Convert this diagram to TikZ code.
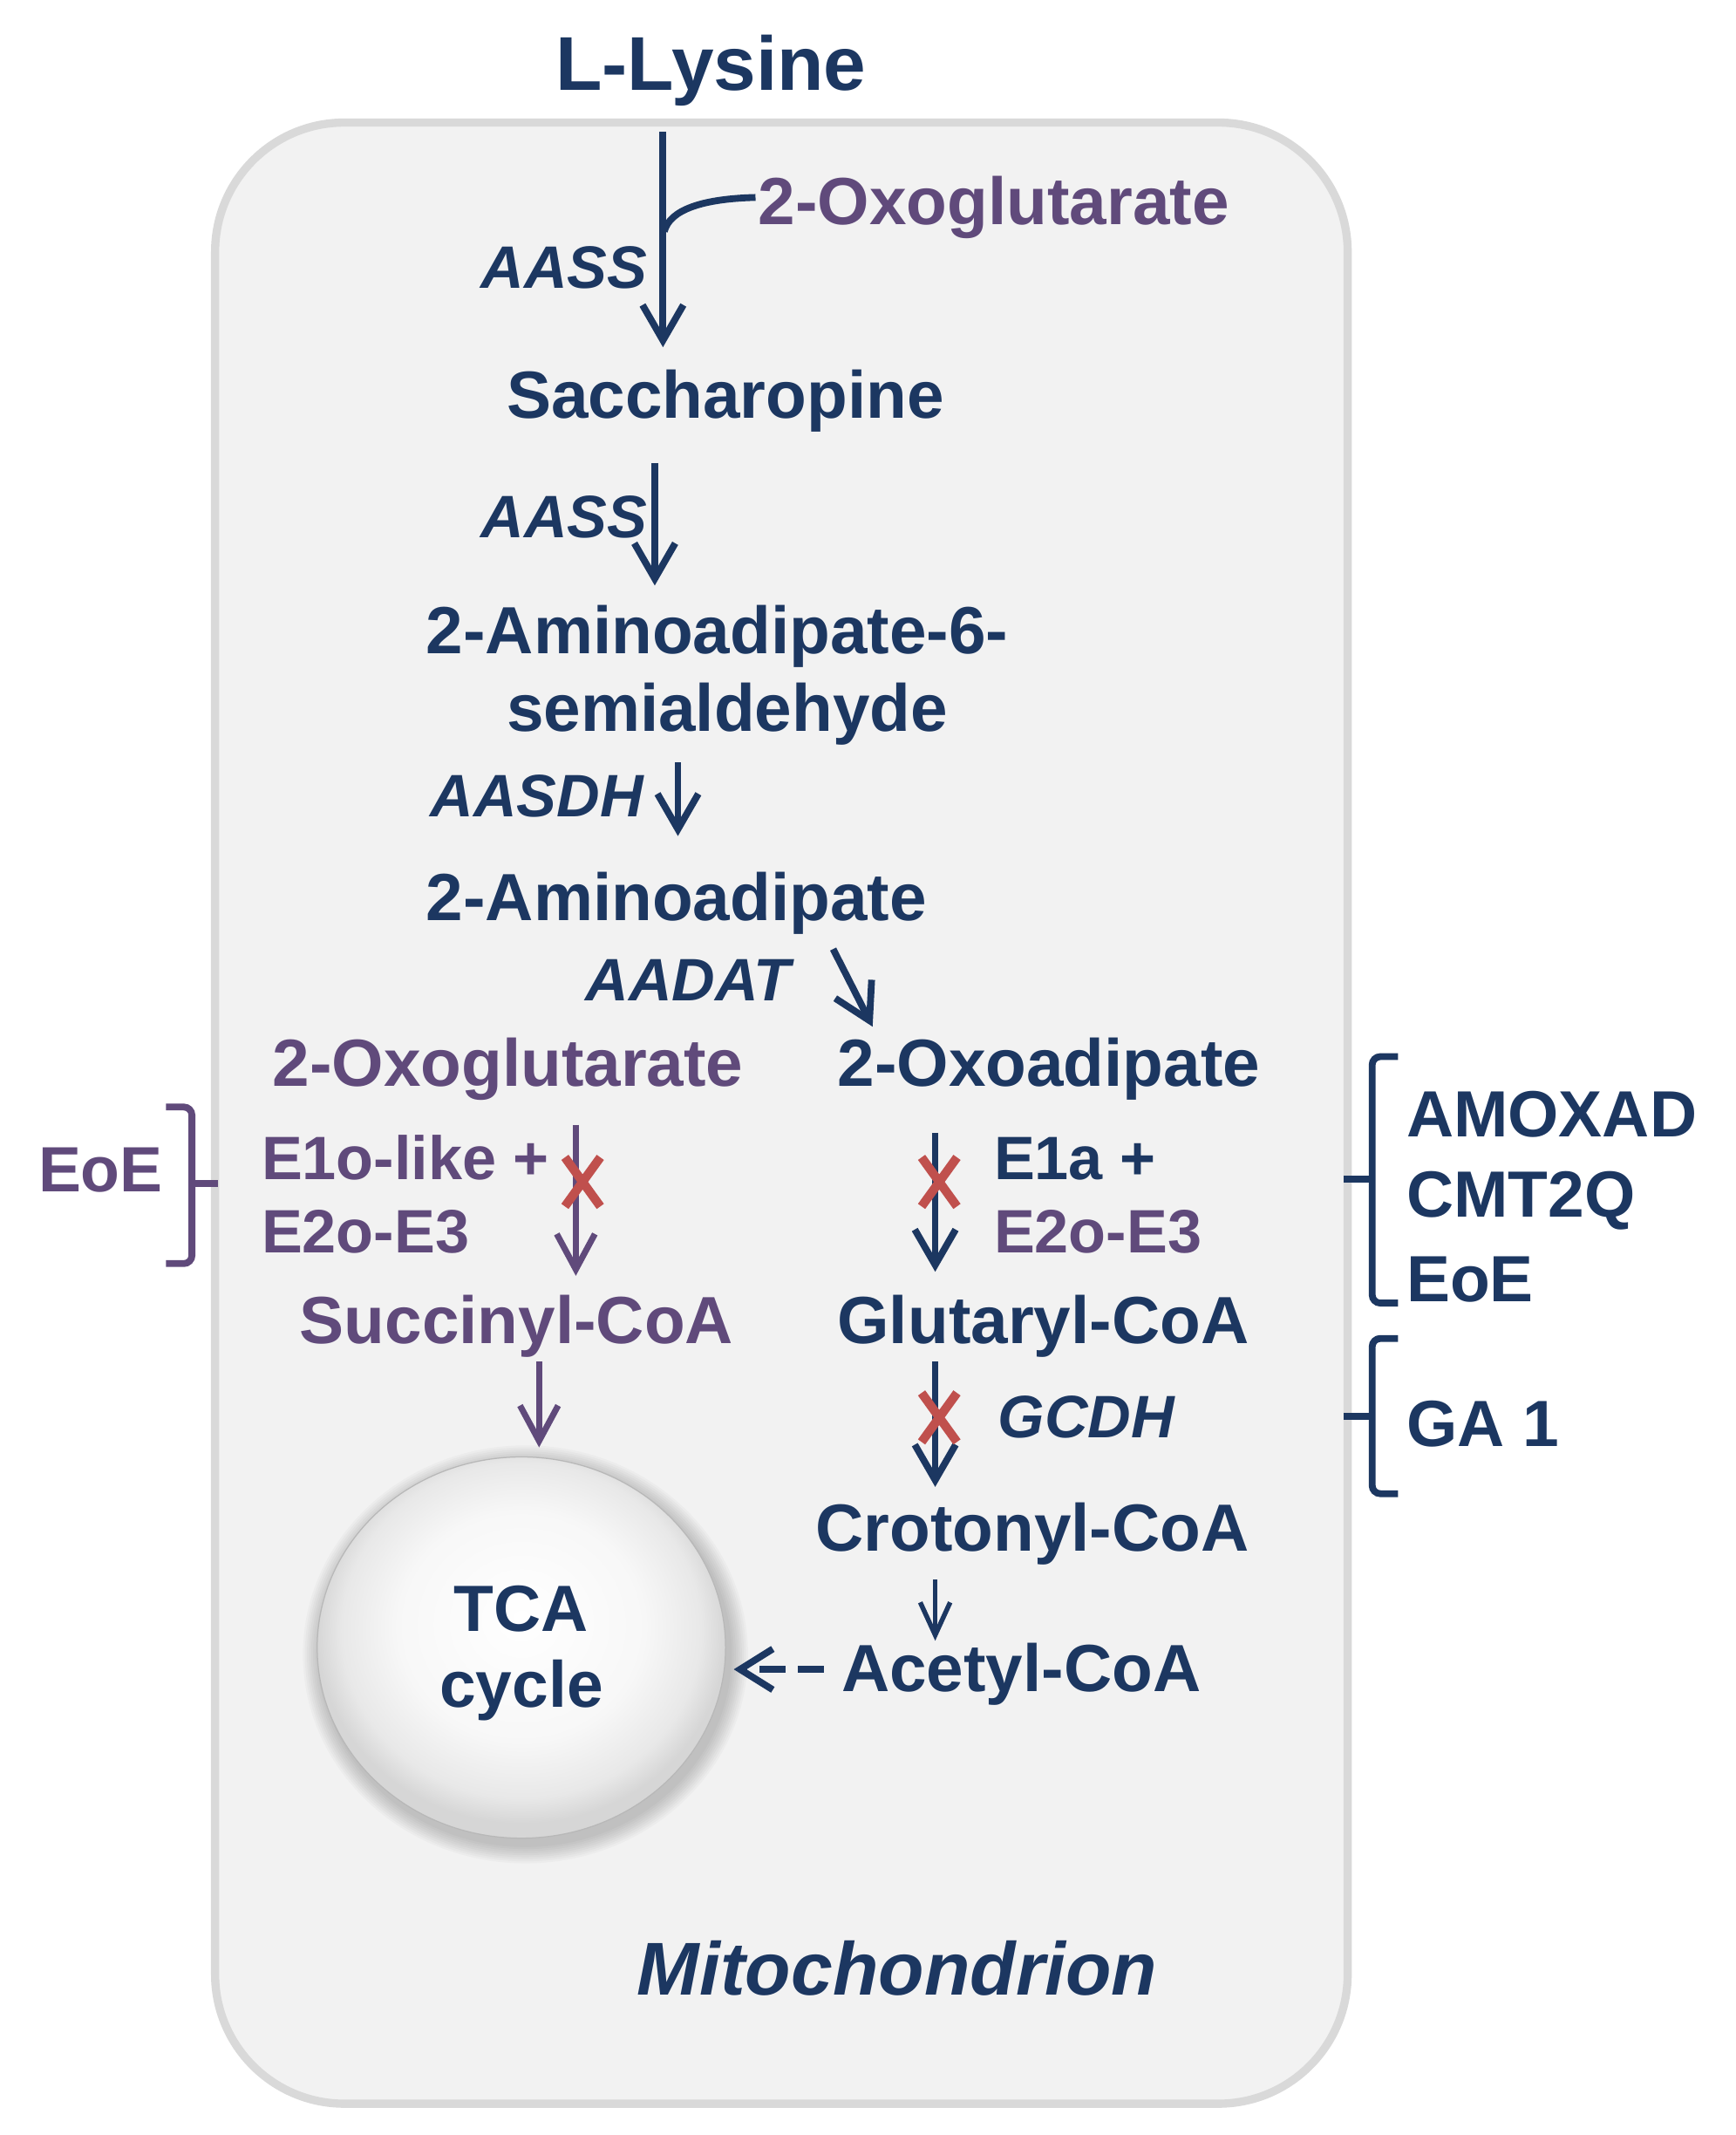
\documentclass[tikz,border=0pt]{standalone}
\usepackage{fontspec}
\setmainfont{Liberation Sans}
\usetikzlibrary{arrows.meta}
\definecolor{navy}{HTML}{1C3761}
\definecolor{purp}{HTML}{604A7B}
\definecolor{redx}{HTML}{C0504D}
\definecolor{boxfill}{HTML}{F2F2F2}
\definecolor{boxline}{HTML}{D9D9D9}
\pgfdeclareradialshading{sphere}{\pgfpoint{0bp}{4bp}}{%
  color(0bp)=(white);
  color(15bp)=(white!97!black);
  color(22bp)=(white!91!black);
  color(25bp)=(white!84!black);
  color(50bp)=(white!84!black)}
\begin{document}
\begin{tikzpicture}[x=1pt,y=-1pt,
  lab/.style={inner sep=0pt,anchor=base west,text=navy,font=\bfseries\fontsize{49}{58}\selectfont},
  plab/.style={lab,text=purp},
  enz/.style={inner sep=0pt,anchor=base west,text=navy,font=\bfseries\itshape\fontsize{44}{52}\selectfont},
  elab/.style={inner sep=0pt,anchor=base west,text=purp,font=\bfseries\fontsize{45}{54}\selectfont},
  dlab/.style={inner sep=0pt,anchor=base west,text=navy,font=\bfseries\fontsize{48}{57}\selectfont,align=left},
  arr/.style={navy,line width=5pt,-{Straight Barb[length=26pt,width=30pt]}},
  parr/.style={purp,line width=4.5pt,-{Straight Barb[length=26pt,width=28pt]}},
  sarr/.style={navy,line width=3.5pt,-{Straight Barb[length=24pt,width=22pt]}},
  xmark/.style={redx,line width=6.5pt},
  brk/.style={line width=5pt,rounded corners=6pt}]
\useasboundingbox (0,0) rectangle (1275,1568);

% mitochondrion box
\draw[fill=boxfill,draw=boxline,line width=6pt,rounded corners=95pt] (158,90) rectangle (990,1545);

% TCA sphere with soft shadow
\foreach \i in {1,...,9}{
  \fill[black,opacity=0.022] (386,1215) ellipse ({150+1.5*\i} and {140+1.5*\i});
}
\shade[shading=sphere] (383,1210) ellipse (150 and 140);
\draw[white!72!black,line width=0.8pt] (383,1210) ellipse (150 and 140);
\node[inner sep=0pt,text=navy,align=center,font=\bfseries\fontsize{48}{56}\selectfont,anchor=base] (tca) at (383,1254) {TCA\\cycle};

% texts
\node[lab,font=\bfseries\fontsize{56}{66}\selectfont] (lys) at (408,66) {L-Lysine};
\node[plab] (oxoA) at (557,165) {2-Oxoglutarate};
\node[enz] (aass1) at (353,212) {AASS};
\node[lab] (sacc) at (372,307) {Saccharopine};
\node[enz] (aass2) at (353,395) {AASS};
\node[lab] (aa6) at (313,480) {2-Aminoadipate-6-};
\node[lab] (semi) at (372,537) {semialdehyde};
\node[enz] (aasdh) at (316,600) {AASDH};
\node[lab] (aa) at (313,676) {2-Aminoadipate};
\node[enz] (aadat) at (430,735) {AADAT};
\node[plab] (oxoB) at (200,798) {2-Oxoglutarate};
\node[lab] (oxoad) at (615,798) {2-Oxoadipate};
\node[elab] (e1o) at (192,866) {E1o-like +};
\node[elab] (e2oL) at (192,920) {E2o-E3};
\node[elab,font=\bfseries\fontsize{47}{56}\selectfont] (eoeL) at (28,875) {EoE};
\node[elab,text=navy] (e1a) at (730,866) {E1a +};
\node[elab] (e2oR) at (730,920) {E2o-E3};
\node[plab] (succ) at (220,987) {Succinyl-CoA};
\node[lab] (glut) at (615,987) {Glutaryl-CoA};
\node[enz] (gcdh) at (733,1056) {GCDH};
\node[lab] (crot) at (599,1139) {Crotonyl-CoA};
\node[lab] (acet) at (618,1242) {Acetyl-CoA};
\node[inner sep=0pt,anchor=base west,text=navy,font=\bfseries\itshape\fontsize{55}{64}\selectfont] (mito) at (468,1465) {Mitochondrion};
\node[dlab] (amox) at (1033,835) {AMOXAD};
\node[dlab] (cmt) at (1033,894) {CMT2Q};
\node[dlab] (eoeR) at (1033,956) {EoE};
\node[dlab] (ga) at (1033,1062) {GA 1};

% coordinates for connectors
\coordinate (a1s) at (487,97);
\coordinate (a1e) at (487,255);
\coordinate (c1s) at (488,170);
\coordinate (c1e) at (555,145);
\coordinate (a2s) at (481,340);
\coordinate (a2e) at (481,430);
\coordinate (a3s) at (498,560);
\coordinate (a3e) at (498,614);
\coordinate (a4s) at (612,697);
\coordinate (a4e) at (641,754);
\coordinate (l1s) at (423,826);
\coordinate (l1e) at (423,937);
\coordinate (l2s) at (396,1000);
\coordinate (l2e) at (396,1063);
\coordinate (r1s) at (687,832);
\coordinate (r1e) at (687,934);
\coordinate (r2s) at (687,1000);
\coordinate (r2e) at (687,1092);
\coordinate (r3s) at (687,1160);
\coordinate (r3e) at (687,1205);
\coordinate (dashS) at (605,1226);
\coordinate (dashE) at (539,1226);

% main pathway arrows
\draw[arr] (a1s) -- (a1e);
\draw[navy,line width=5pt] (c1s) .. controls (492,154) and (516,146) .. (c1e);
\draw[arr] (a2s) -- (a2e);
\draw[arr] (a3s) -- (a3e);
\draw[arr] (a4s) -- (a4e);
\draw[parr] (l1s) -- (l1e);
\draw[parr] (l2s) -- (l2e);
\draw[arr] (r1s) -- (r1e);
\draw[arr] (r2s) -- (r2e);
\draw[sarr] (r3s) -- (r3e);
\draw[navy,line width=5pt,dash pattern=on 19pt off 9pt,-{Straight Barb[length=24pt,width=30pt]}] (dashS) -- (dashE);

% red crosses
\draw[xmark] (415,850) -- (441,886) (441,850) -- (415,886);
\draw[xmark] (677,850) -- (703,886) (703,850) -- (677,886);
\draw[xmark] (677,1023) -- (703,1059) (703,1023) -- (677,1059);

% brackets
\draw[brk,purp] (122,813) -- (141,813) -- (141,928) -- (122,928);
\draw[purp,line width=5pt] (141,869) -- (160,869);
\draw[brk,navy] (1027,776) -- (1008,776) -- (1008,957) -- (1027,957);
\draw[navy,line width=5pt] (987,866) -- (1008,866);
\draw[brk,navy] (1027,983) -- (1008,983) -- (1008,1097) -- (1027,1097);
\draw[navy,line width=5pt] (987,1040) -- (1008,1040);
\end{tikzpicture}
\end{document}
